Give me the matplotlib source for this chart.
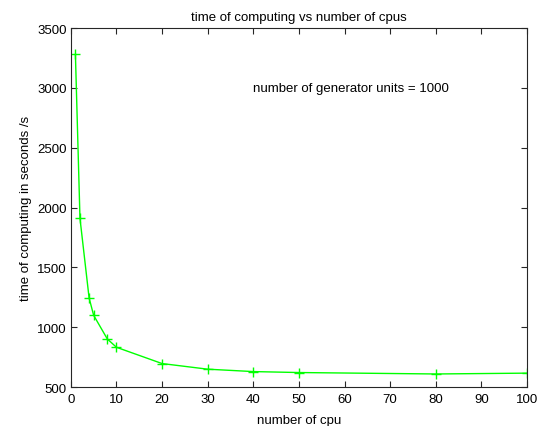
import matplotlib
import matplotlib.pyplot as plt

matplotlib.use("Agg")

plt.rcParams["font.family"] = ["Liberation Sans", "DejaVu Sans"]

cpus = [1, 2, 4, 5, 8, 10, 20, 30, 40, 50, 80, 100]
times = [3280, 1910, 1245, 1100, 902, 833, 697, 650, 630, 622, 610, 617]

fig = plt.figure(figsize=(5.45, 4.27), dpi=100)
ax = fig.add_axes([0.130, 0.091, 0.837, 0.841])

ax.plot(cpus, times, color="#00ff00", marker="+", markersize=7,
        markeredgewidth=1.0, linewidth=1.0)

ax.set_xlim(0, 100)
ax.set_ylim(500, 3500)
ax.set_xticks(range(0, 101, 10))
ax.set_yticks(range(500, 3501, 500))

ax.tick_params(direction="in", top=True, right=True, labelsize=9.5,
               length=4, width=0.8, colors="#262626", labelcolor="black",
               pad=3)
ax.tick_params(axis="x", pad=4)
for s in ax.spines.values():
    s.set_color("#262626")
    s.set_linewidth(0.8)

ax.set_title("time of computing vs number of cpus", fontsize=9.5, pad=6)
ax.set_xlabel("number of cpu", fontsize=9.5, labelpad=7)
ax.set_ylabel("time of computing in seconds /s", fontsize=9.5, labelpad=4)

ax.text(40, 3000, "number of generator units = 1000", fontsize=9.5,
        ha="left", va="center")

fig.savefig("out.png", dpi=100)
plt.close(fig)
